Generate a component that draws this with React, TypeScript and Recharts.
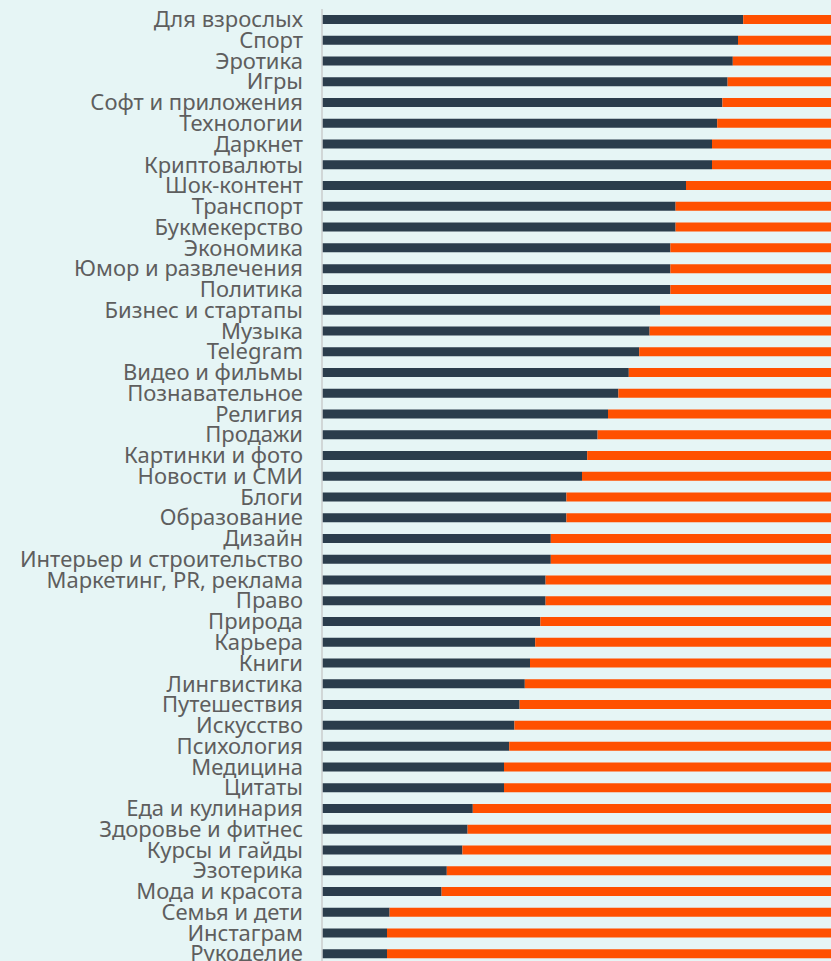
import React from "react";
import { BarChart, Bar, XAxis, YAxis, CartesianGrid } from "recharts";

const categories = [
  "Для взрослых", "Спорт", "Эротика", "Игры", "Софт и приложения", "Технологии",
  "Даркнет", "Криптовалюты", "Шок-контент", "Транспорт", "Букмекерство", "Экономика",
  "Юмор и развлечения", "Политика", "Бизнес и стартапы", "Музыка", "Telegram",
  "Видео и фильмы", "Познавательное", "Религия", "Продажи", "Картинки и фото",
  "Новости и СМИ", "Блоги", "Образование", "Дизайн", "Интерьер и строительство",
  "Маркетинг, PR, реклама", "Право", "Природа", "Карьера", "Книги", "Лингвистика",
  "Путешествия", "Искусство", "Психология", "Медицина", "Цитаты", "Еда и кулинария",
  "Здоровье и фитнес", "Курсы и гайды", "Эзотерика", "Мода и красота", "Семья и дети",
  "Инстаграм", "Рукоделие",
];

const darkValues = [
  81, 80, 79, 78, 77, 76, 75, 75, 70, 68, 68, 67, 67, 67, 65, 63, 61, 59, 57, 55,
  53, 51, 50, 47, 47, 44, 44, 43, 43, 42, 41, 40, 39, 38, 37, 36, 35, 35, 29, 28,
  27, 24, 23, 13, 12.5, 12.5,
];

const orangeValues = [
  19, 20, 21, 22, 23, 24, 25, 25, 30, 32, 32, 33, 33, 33, 35, 37, 39, 41, 43, 45,
  47, 49, 50, 53, 53, 56, 56, 57, 57, 58, 59, 60, 61, 62, 63, 64, 65, 65, 71, 72,
  73, 76, 77, 87, 87.5, 87.5,
];

const xTicks = [0, 25, 50, 75, 100];

const data = categories.map((name, i) => ({
  name,
  dark: darkValues[i],
  orange: orangeValues[i],
}));

export default function App() {
  return (
    <div
      style={{
        position: "fixed",
        top: 0,
        left: 0,
        width: 831,
        height: 961,
        overflow: "hidden",
        background: "#e6f5f5",
      }}
    >
      <BarChart
        width={850}
        height={1040}
        data={data}
        layout="vertical"
        margin={{ top: 9, right: 8, bottom: 46, left: 0 }}
        barCategoryGap={0}
      >
        <CartesianGrid horizontal={false} stroke="#d3d9d9" strokeWidth={1.5} />
        <XAxis
          type="number"
          domain={[0, 100]}
          ticks={xTicks}
          height={30}
          axisLine={false}
          tickLine={false}
          tick={false}
        />
        <YAxis
          type="category"
          dataKey="name"
          width={322}
          interval={0}
          tickLine={false}
          tickMargin={13}
          axisLine={{ stroke: "#cfd4d4", strokeWidth: 1.5 }}
          tick={{ fill: "#5e5e5e", fontSize: 22, fontFamily: "'Noto Sans', sans-serif" }}
        />
        <Bar dataKey="dark" stackId="a" fill="#2b3d4c" barSize={9} isAnimationActive={false} />
        <Bar dataKey="orange" stackId="a" fill="#ff5000" barSize={9} isAnimationActive={false} />
      </BarChart>
    </div>
  );
}
